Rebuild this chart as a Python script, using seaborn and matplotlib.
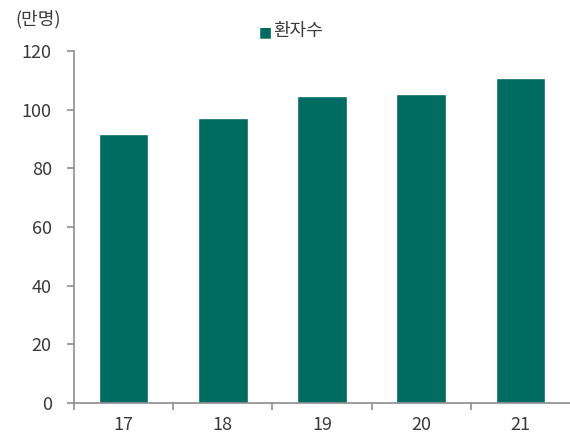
import matplotlib
matplotlib.use("Agg")
import matplotlib.pyplot as plt
import seaborn as sns
import pandas as pd
from matplotlib.ticker import FixedLocator, NullFormatter

years = ["17", "18", "19", "20", "21"]
patients = [91.7, 97.3, 104.8, 105.5, 110.9]
series_name = "환자수"
unit_label = "(만명)"
y_ticks = [0, 20, 40, 60, 80, 100, 120]

sns.set_theme(style="white")
plt.rcParams["font.family"] = ["Noto Sans CJK KR", "DejaVu Sans"]

bar_color = "#006B60"
axis_color = "#8C8C8C"
text_color = "#3A3A3A"

df = pd.DataFrame({"year": years, "value": patients, "series": series_name})

fig = plt.figure(figsize=(5.7, 4.37), dpi=100)
ax = fig.add_axes([74 / 570, 1 - 403 / 437, 1 - 74 / 570, (403 - 51) / 437])

sns.barplot(data=df, x="year", y="value", hue="series", palette=[bar_color],
            width=0.5, ax=ax, legend=False, saturation=1)

ax.set_xlim(-0.5, 4.5)
ax.set_ylim(0, 120)
ax.set_yticks(y_ticks)
ax.set_xlabel("")
ax.set_ylabel("")

# category labels on minor ticks, separator marks on major ticks
ax.xaxis.set_major_locator(FixedLocator([-0.5, 0.5, 1.5, 2.5, 3.5]))
ax.xaxis.set_major_formatter(NullFormatter())
ax.xaxis.set_minor_locator(FixedLocator(range(len(years))))
ax.set_xticklabels(years, minor=True)
ax.tick_params(axis="x", which="major", length=5, width=1.2, color=axis_color, direction="out", bottom=True)
ax.tick_params(axis="x", which="minor", length=0, pad=9, labelsize=13, labelcolor=text_color)
ax.tick_params(axis="y", length=5, width=1.2, color=axis_color, direction="out", left=True,
               labelsize=13, labelcolor=text_color, pad=11)

for side in ["top", "right"]:
    ax.spines[side].set_visible(False)
for side in ["left", "bottom"]:
    ax.spines[side].set_color(axis_color)
    ax.spines[side].set_linewidth(1.2)

# legend
fig.text(265.5 / 570, 1 - 32 / 437, "■", color=bar_color, fontsize=10, ha="center", va="center",
         family=["DejaVu Sans"])
fig.text(273 / 570, 1 - 31 / 437, series_name, color=text_color, fontsize=13, ha="left", va="center")

fig.text(15 / 570, 1 - 19 / 437, unit_label, color=text_color, fontsize=13, ha="left", va="center")

fig.savefig("out.png", dpi=100)
